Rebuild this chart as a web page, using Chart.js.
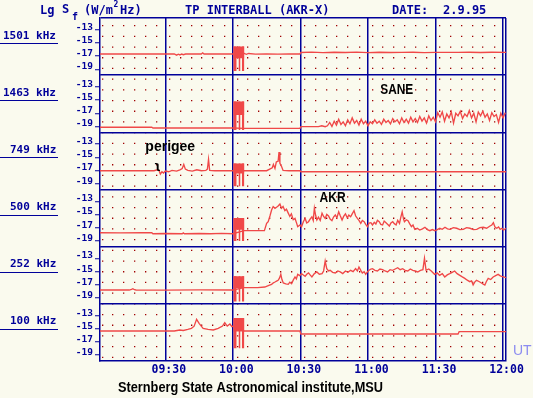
<!DOCTYPE html>
<html>
<head>
<meta charset="utf-8">
<script src="https://cdn.jsdelivr.net/npm/chart.js@4.4.0/dist/chart.umd.min.js"></script>
<style>
  html, body { margin: 0; padding: 0; background: #fafaee; }
  #wrap { position: relative; width: 533px; height: 398px; }
  canvas { display: block; }
</style>
</head>
<body>
<div id="wrap"><canvas id="c" width="533" height="398"></canvas></div>
<script>
// ---------------- DATA (minutes after 09:00 UT, Lg Sf values) ----------------
const freqLabels = ['1501 kHz', '1463 kHz', '749 kHz', '500 kHz', '252 kHz', '100 kHz'];
const xTickValues = [30, 60, 90, 120, 150, 180];
const xTickLabels = ['09:30', '10:00', '10:30', '11:00', '11:30', '12:00'];
const yTickValues = [-19, -17, -15, -13];
const yTickLabels = ['-19', '-17', '-15', '-13'];

const t1501 = [1, 30, 34, 35, 35.8, 36.5, 37.3, 38, 39, 46,
  46.6, 47.2, 60, 65, 66, 67, 70, 75, 80, 85,
  89.8, 90.2, 95, 100, 105, 110, 115, 120, 125, 130,
  135, 140, 145, 150, 155, 160, 165, 170, 175, 181.3];
const v1501 = [-16.68, -16.68, -16.68, -16.85, -16.7, -16.82, -16.68, -16.78, -16.68, -16.68,
  -16.5, -16.68, -16.68, -16.6, -16.72, -16.6, -16.7, -16.65, -16.7, -16.68,
  -16.68, -16.45, -16.4, -16.48, -16.42, -16.45, -16.4, -16.46, -16.42, -16.45,
  -16.44, -16.42, -16.46, -16.43, -16.42, -16.44, -16.42, -16.45, -16.42, -16.44];

const t1463 = [1, 24, 24.5, 60, 65, 89.8, 90.2, 98, 99.5, 101,
  102, 103, 104, 105, 106, 107, 108, 109, 110, 111,
  112, 113, 114, 115, 116, 117, 118, 119, 120, 121,
  122, 123, 124, 125, 126, 127, 128, 129, 130, 131,
  132, 133, 134, 135, 136, 137, 138, 139, 140, 141,
  142, 143, 144, 145, 146, 147, 148, 149, 150, 151,
  152, 153, 154, 155, 156, 157, 158, 159, 160, 161,
  162, 163, 164, 165, 166, 167, 168, 169, 170, 171,
  172, 173, 174, 175, 176, 177, 178, 179, 180, 181];
const v1463 = [-19.13, -19.13, -19.24, -19.24, -19.29, -19.29, -19.04, -19.04, -18.9, -19.04,
  -18.9, -18.4, -19.0, -18.2, -18.8, -17.9, -18.7, -18.3, -18.9, -18.0,
  -18.6, -17.7, -18.5, -18.1, -18.8, -17.9, -18.6, -18.2, -18.9, -18.3,
  -18.6, -18.0, -18.5, -18.2, -18.7, -17.9, -18.4, -18.1, -18.6, -17.8,
  -18.3, -18.0, -18.6, -17.7, -18.4, -17.9, -18.5, -17.6, -18.3, -17.8,
  -18.4, -17.5, -18.2, -17.7, -18.5, -17.4, -18.1, -17.6, -18.3, -16.9,
  -17.6, -16.8, -18.2, -17.1, -17.7, -16.8, -18.5, -17.0, -17.4, -16.7,
  -17.8, -17.1, -17.5, -16.6, -17.7, -17.0, -18.3, -16.8, -17.4, -16.7,
  -17.6, -17.1, -18.1, -16.9, -17.5, -17.2, -18.4, -17.0, -17.7, -16.9];

const t749 = [1, 25, 26.5, 27.2, 27.8, 28.5, 29.2, 30, 31.5, 33,
  35, 36.5, 37.5, 38.2, 38.9, 40, 42, 44, 46, 48,
  48.7, 49.2, 49.7, 52, 60, 65, 75, 77.5, 78, 78.7,
  79.3, 80.1, 80.5, 80.9, 81.5, 82.3, 85, 89.8, 90.2, 181.3];
const v749 = [-17.04, -17.04, -16.9, -17.0, -17.55, -17.2, -17.4, -17.1, -17.2, -17.0,
  -17.1, -16.9, -16.7, -16.1, -16.8, -17.0, -17.1, -16.9, -17.05, -17.0,
  -16.8, -15.3, -17.0, -17.04, -17.04, -17.04, -17.04, -16.6, -16.1, -16.7,
  -15.7, -15.6, -14.2, -15.9, -16.3, -17.0, -17.05, -17.05, -17.2, -17.2];

const t500 = [1, 10, 20, 24, 24.5, 30, 37.5, 38, 38.5, 45,
  50, 55, 60, 65, 74, 75, 75.7, 76.5, 77.2, 77.9,
  78.7, 79.4, 80.1, 80.9, 81.6, 82.3, 83.1, 83.8, 84.6, 85.3,
  86, 86.8, 87.6, 88.2, 88.8, 89.8, 90.5, 91.3, 92.1, 92.8,
  93.6, 94.3, 95.1, 95.7, 96.2, 96.8, 97.3, 98, 98.8, 99.6,
  100.3, 101, 101.7, 102.5, 103.2, 104, 104.7, 105.5, 106.2, 107,
  107.7, 108.5, 109.2, 110, 110.8, 111.5, 112.3, 113, 113.8, 114.5,
  115.3, 116, 116.8, 117.5, 118.3, 119, 119.8, 120.5, 121.3, 122,
  122.8, 123.5, 124.2, 125, 125.7, 126.5, 127.2, 128, 128.7, 129.5,
  130.2, 131, 131.7, 132.5, 133.2, 134, 134.6, 135.2, 135.8, 136.2,
  137, 137.8, 138.5, 139.3, 140, 140.8, 141.9, 143, 144.2, 145.3,
  146.4, 147.5, 148.6, 149.7, 150.8, 151.9, 153, 154.2, 155.3, 156.4,
  157.9, 159.4, 160.8, 162.3, 163.8, 165.3, 166.8, 168.3, 169.7, 171.2,
  172.7, 174.2, 175, 175.7, 176.4, 177.2, 178, 178.7, 179.5, 180.2,
  181.3];
const v500 = [-17.78, -17.8, -17.76, -17.78, -17.93, -17.9, -17.93, -17.8, -17.93, -17.9,
  -17.93, -17.88, -17.93, -17.47, -17.47, -16.35, -16.1, -15.2, -14.32, -13.8,
  -14.06, -13.9, -13.71, -13.4, -14.06, -13.8, -14.42, -14.2, -14.8, -15.3,
  -14.9, -15.8, -15.6, -16.2, -16.86, -16.6, -16.9, -16.1, -15.6, -16.3,
  -16.1, -15.7, -15.35, -15.9, -14.06, -15.2, -15.84, -15.4, -15.9, -14.8,
  -15.3, -15.6, -15.0, -15.23, -15.7, -15.95, -15.4, -15.08, -15.5, -14.6,
  -15.2, -15.84, -15.3, -14.9, -15.5, -15.1, -15.35, -14.9, -14.42, -15.2,
  -15.6, -15.9, -16.35, -15.9, -16.1, -16.5, -16.86, -16.3, -16.25, -16.6,
  -16.2, -16.45, -15.9, -16.1, -16.5, -16.6, -16.0, -16.25, -16.5, -16.76,
  -16.3, -16.1, -16.4, -16.6, -15.9, -16.35, -15.4, -14.6, -15.7, -16.1,
  -15.8, -15.95, -16.4, -16.86, -16.6, -17.26, -17.1, -17.37, -17.2, -16.95,
  -17.3, -17.47, -17.3, -17.47, -17.3, -17.1, -17.25, -16.95, -17.2, -17.26,
  -17.0, -17.1, -17.3, -17.26, -17.0, -17.1, -17.3, -17.26, -17.0, -16.95,
  -17.1, -16.76, -16.6, -16.25, -16.9, -17.1, -16.9, -17.26, -17.1, -17.37,
  -17.1];

const t252 = [1, 14, 15, 15.6, 16.3, 17, 30, 45, 60,
  65, 71, 74.2, 76, 77.2, 78, 78.7, 79.4, 80.1, 80.7,
  81.3, 81.8, 82.4, 83.5, 84.6, 85.3, 86.1, 86.8, 87.6, 88.2,
  88.8, 89.7, 90.5, 91.3, 92.1, 92.8, 93.6, 94.3, 95.1, 96.2,
  97.3, 98.4, 99.6, 100.3, 101, 101.7, 102.5, 103.2, 104.3, 105.5,
  106.6, 107.7, 108.8, 110, 111.1, 112.3, 113.4, 114.5, 115.3, 116,
  116.8, 117.5, 118.3, 119, 119.8, 120.5, 121.3, 122, 123.1, 124.2,
  125.3, 126.5, 127.6, 128.7, 129.8, 131, 132.1, 133.2, 134.3, 135.4,
  136.5, 137.7, 138.8, 139.9, 141, 142.1, 143.3, 144.4, 145.1, 145.8,
  147, 148.1, 149.6, 150.7, 151.8, 153, 154.1, 155.2, 156.3, 157.4,
  158.5, 159.6, 160.8, 161.9, 163, 164.1, 165.2, 166, 166.7, 167.4,
  168.2, 169.3, 170.4, 171.2, 171.9, 172.6, 173.4, 174.5, 175.6, 176.7,
  177.8, 178.6, 179.3, 180.2, 181.3];
const v252 = [-17.8, -17.8, -17.7, -17.6, -17.75, -17.8, -17.82, -17.78, -17.8,
  -17.44, -17.44, -17.34, -17.1, -16.93, -16.7, -16.58, -16.45, -16.32, -16.0,
  -15.41, -16.2, -16.73, -16.85, -16.93, -16.6, -16.83, -16.3, -15.81, -16.1,
  -15.41, -15.6, -15.31, -15.5, -15.71, -15.4, -15.2, -15.5, -15.81, -15.3,
  -15.05, -15.4, -15.31, -14.9, -13.38, -14.55, -14.9, -14.8, -15.1, -15.2,
  -14.9, -15.05, -15.3, -14.9, -15.1, -14.8, -15.0, -14.55, -14.9, -14.3,
  -14.8, -15.2, -15.0, -15.41, -15.0, -14.8, -14.6, -14.55, -14.8, -14.9,
  -14.6, -14.7, -14.9, -15.05, -14.7, -14.8, -14.6, -14.4, -14.7, -14.55,
  -14.8, -14.9, -14.6, -14.8, -14.9, -15.05, -14.8, -14.7, -12.98, -14.8,
  -14.6, -14.9, -15.41, -15.2, -15.56, -15.3, -15.81, -15.5, -15.31, -15.1,
  -14.9, -15.3, -15.56, -15.8, -16.02, -16.3, -16.53, -16.4, -17.03, -16.6,
  -16.32, -16.5, -16.73, -16.9, -17.03, -16.5, -16.02, -16.2, -15.81, -15.6,
  -15.41, -15.6, -15.71, -15.8, -15.92];

const t100 = [1, 20, 34, 36.4, 38, 40, 41.6, 42.8, 43.9, 45,
  46.8, 49, 51.3, 53.5, 55.4, 56.4, 57.5, 58.7, 59.6, 60,
  65, 89.8, 90.2, 160, 160.5, 181.3];
const v100 = [-15.33, -15.33, -15.33, -15.18, -15.25, -15.1, -14.93, -14.6, -13.56, -14.17,
  -14.93, -15.08, -15.18, -14.93, -14.58, -14.07, -14.58, -14.27, -14.68, -14.6,
  -15.33, -15.33, -15.79, -15.79, -15.44, -15.44];

// calibration block at 10:00 (per panel, top to bottom)
const calTop = [-15.52, -15.22, -15.93, -15.55, -15.72, -13.37];
const calMid = [-17.31, -17.26, -17.46, -17.34, -17.50, -15.40];
const calBot = [-19.25, -19.55, -19.39, -19.02, -19.54, -17.95];
const calStart = 60.2, calEnd = 65.1;
const prongStart = [60.2, 62.5, 64.0];
const prongEnd = [61.7, 63.4, 65.1];

// annotations (data coordinates)
const notes = [
  { text: 'SANE', panel: 1, t: 132.8, v: -14.11, w: 33 },
  { text: 'AKR', panel: 3, t: 104.3, v: -13.06, w: 26 },
  { text: 'perigee', panel: 2, t: 32.2, v: -14.04, w: 54 }
];

// ---------------- CHART ----------------
const X_MIN = 1, X_MAX = 181.3;
const Y_MIN = -19.9, Y_MAX = -11.2;
const BLUE = '#00009a', RED = '#f04848', DOT = '#a00000', NONE = 'rgba(0,0,0,0)';
const panelIds = ['p0', 'p1', 'p2', 'p3', 'p4', 'p5'];
const seriesT = [t1501, t1463, t749, t500, t252, t100];
const seriesV = [v1501, v1463, v749, v500, v252, v100];
const dotOffsets = [2, 6.7, 11.5, 16.3, 21.1, 26.2];

const datasets = [];
panelIds.forEach((id, i) => {
  const common = { yAxisID: id, xAxisID: 'x', pointRadius: 0, borderColor: NONE, tension: 0 };
  datasets.push(Object.assign({}, common, {
    data: [{ x: calStart, y: calTop[i] }, { x: calEnd, y: calTop[i] }],
    fill: { value: calMid[i] }, backgroundColor: RED
  }));
  prongStart.forEach((ps, j) => {
    datasets.push(Object.assign({}, common, {
      data: [{ x: ps, y: calTop[i] }, { x: prongEnd[j], y: calTop[i] }],
      fill: { value: calBot[i] }, backgroundColor: RED
    }));
  });
  datasets.push({
    yAxisID: id, xAxisID: 'x', pointRadius: 0, tension: 0, fill: false,
    borderColor: RED, borderWidth: 1.35,
    data: seriesT[i].map((t, k) => ({ x: t, y: seriesV[i][k] }))
  });
});

const scales = {
  x: {
    type: 'linear', position: 'bottom', min: X_MIN, max: X_MAX,
    afterBuildTicks: s => { s.ticks = xTickValues.concat([X_MAX]).map(v => ({ value: v })); },
    afterFit: s => { s.height = 37; },
    ticks: {
      autoSkip: false, maxRotation: 0, color: BLUE, padding: 2, labelOffset: 3.5,
      font: { family: '"DejaVu Sans Mono", monospace', size: 11.5, weight: 'bold' },
      callback: (v, i) => (i < xTickLabels.length ? xTickLabels[i] : '')
    },
    grid: { color: BLUE, lineWidth: 1.5, drawTicks: false },
    border: { color: BLUE, width: 1.5 }
  },
  xd: {
    type: 'linear', position: 'top', min: X_MIN, max: X_MAX,
    afterBuildTicks: s => {
      const arr = [];
      for (let k = 0; k < 6; k++) dotOffsets.forEach(o => arr.push({ value: 30 * k + o }));
      s.ticks = arr;
    },
    afterFit: s => { s.height = 0; },
    ticks: { display: false },
    grid: { color: DOT, lineWidth: 1.3, drawTicks: false },
    border: { display: false, dash: [1.3, 9.4], dashOffset: 3.7 }
  }
};
panelIds.forEach((id, i) => {
  scales[id] = {
    type: 'linear', position: 'left', stack: 'panels', stackWeight: 1, weight: 6 - i,
    min: Y_MIN, max: Y_MAX,
    afterBuildTicks: s => { s.ticks = [Y_MIN].concat(yTickValues, [Y_MAX]).map(v => ({ value: v })); },
    afterFit: s => { s.width = 100; },
    ticks: {
      autoSkip: false, color: BLUE, padding: 2, labelOffset: -2.5,
      font: { family: '"DejaVu Sans Mono", monospace', size: 9.5, weight: 'bold' },
      callback: (v, k) => (k >= 1 && k <= yTickLabels.length ? yTickLabels[k - 1] : '')
    },
    grid: {
      drawTicks: true, tickLength: 5, lineWidth: 1.5, tickWidth: 1,
      color: c => (c.tick && c.tick.value === Y_MAX ? BLUE : NONE),
      tickColor: c => (c.tick && (c.tick.value === Y_MAX || c.tick.value === Y_MIN) ? NONE : BLUE)
    },
    border: { display: true, color: BLUE, width: 1.5 }
  };
});

const decor = {
  id: 'decor',
  afterDraw(chart) {
    const ctx = chart.ctx, xs = chart.scales.x;
    ctx.save();
    // header
    ctx.fillStyle = BLUE; ctx.textBaseline = 'middle'; ctx.textAlign = 'left';
    const mono = s => 'bold ' + s + 'px "DejaVu Sans Mono", monospace';
    ctx.font = mono(12);
    ctx.fillText('Lg', 40, 11);
    ctx.fillText('S', 62, 10);
    ctx.fillText('(W/m', 84, 11);
    ctx.fillText('Hz)', 120, 11);
    ctx.fillText('TP INTERBALL (AKR-X)', 185, 11, 151);
    ctx.fillText('DATE:', 392, 11);
    ctx.fillText('2.9.95', 443, 11, 46);
    ctx.font = mono(10);
    ctx.fillText('f', 72, 17);
    ctx.font = mono(8);
    ctx.fillText('2', 113.5, 5);
    // frequency labels
    panelIds.forEach((id, i) => {
      const s = chart.scales[id];
      ctx.font = mono(11); ctx.fillStyle = BLUE; ctx.textAlign = 'left'; ctx.textBaseline = 'middle';
      ctx.fillText(freqLabels[i], freqLabels[i].length > 7 ? 3 : 10, s.top + 17.7);
      ctx.strokeStyle = BLUE; ctx.lineWidth = 1;
      const yy = Math.round(s.top + 25) + 0.5;
      ctx.beginPath(); ctx.moveTo(0, yy); ctx.lineTo(58, yy); ctx.stroke();
    });
    // annotations
    ctx.fillStyle = '#000'; ctx.textAlign = 'center'; ctx.textBaseline = 'alphabetic';
    ctx.font = 'bold 14px "Liberation Sans", Arial, sans-serif';
    notes.forEach(n => {
      const s = chart.scales[panelIds[n.panel]];
      ctx.fillText(n.text, xs.getPixelForValue(n.t), s.getPixelForValue(n.v), n.w);
    });
    // perigee marker
    const sp = chart.scales.p2;
    ctx.font = 'bold 11px "DejaVu Sans", sans-serif'; ctx.textBaseline = 'middle';
    ctx.fillText('ʅ', xs.getPixelForValue(26.5), sp.getPixelForValue(-16.4));
    // UT
    ctx.fillStyle = '#8c8cf0'; ctx.font = '14px "Liberation Sans", Arial, sans-serif';
    ctx.textAlign = 'left'; ctx.textBaseline = 'alphabetic';
    ctx.fillText('UT', 513, 355);
    // footer
    ctx.fillStyle = '#000'; ctx.font = 'bold 14px "Liberation Sans", Arial, sans-serif';
    ctx.fillText('Sternberg State Astronomical institute,MSU', 118, 391.5, 265);
    ctx.restore();
  }
};

new Chart(document.getElementById('c'), {
  type: 'line',
  data: { datasets },
  options: {
    responsive: false, animation: false, events: [],
    layout: { padding: { top: 18, right: 27, left: 0, bottom: 0 } },
    plugins: { legend: { display: false }, tooltip: { enabled: false }, title: { display: false } },
    scales
  },
  plugins: [decor]
});
</script>
</body>
</html>
